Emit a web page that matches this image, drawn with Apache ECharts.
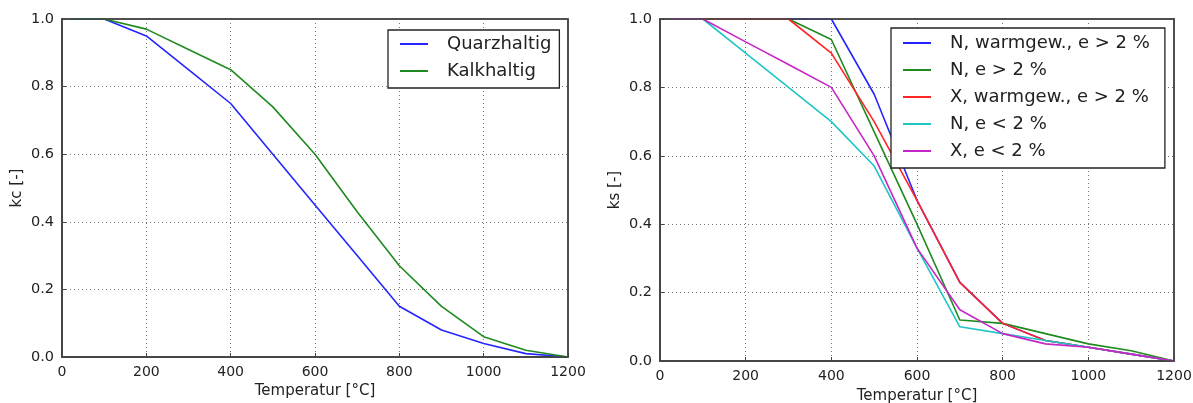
<!DOCTYPE html>
<html>
<head>
<meta charset="utf-8">
<script src="https://cdn.jsdelivr.net/npm/echarts@6/dist/echarts.min.js"></script>
<style>html,body{margin:0;padding:0;background:#fff}#c{width:1193px;height:403px}</style>
</head>
<body>
<div id="c"></div>
<script>
// Left chart: concrete strength reduction kc
const tempLeft = [20, 100, 200, 300, 400, 500, 600, 700, 800, 900, 1000, 1100, 1200];
const quarzhaltig = [1.00, 1.00, 0.95, 0.85, 0.75, 0.60, 0.45, 0.30, 0.15, 0.08, 0.04, 0.01, 0.00];
const kalkhaltig  = [1.00, 1.00, 0.97, 0.91, 0.85, 0.74, 0.60, 0.43, 0.27, 0.15, 0.06, 0.02, 0.00];

// Right chart: steel strength reduction ks
const tempRight = [20, 100, 200, 300, 400, 500, 600, 700, 800, 900, 1000, 1100, 1200];
const nWarmGt2 = [1.00, 1.00, 1.00, 1.00, 1.00, 0.78, 0.47, 0.23, 0.11, 0.06, 0.04, 0.02, 0.00];
const nGt2     = [1.00, 1.00, 1.00, 1.00, 0.94, 0.67, 0.40, 0.12, 0.11, 0.08, 0.05, 0.03, 0.00];
const xWarmGt2 = [1.00, 1.00, 1.00, 1.00, 0.90, 0.70, 0.47, 0.23, 0.11, 0.06, 0.04, 0.02, 0.00];
const nLt2     = [1.00, 1.00, 0.90, 0.80, 0.70, 0.57, 0.33, 0.10, 0.08, 0.06, 0.04, 0.02, 0.00];
const xLt2     = [1.00, 1.00, 0.933, 0.867, 0.80, 0.60, 0.33, 0.15, 0.08, 0.05, 0.04, 0.02, 0.00];

const xTicks = [0, 200, 400, 600, 800, 1000, 1200];
const yTicks = [0.0, 0.2, 0.4, 0.6, 0.8, 1.0];

const namesLeft = ['Quarzhaltig', 'Kalkhaltig'];
const namesRight = ['N, warmgew., e > 2 %', 'N, e > 2 %', 'X, warmgew., e > 2 %', 'N, e < 2 %', 'X, e < 2 %'];
const colorsLeft = ['#2525ff', '#1f8a1f'];
const colorsRight = ['#2525ff', '#1f8a1f', '#ff2525', '#1fc6c6', '#c626c6'];

const FONT = 'DejaVu Sans';
const pair = (xs, ys) => xs.map((x, i) => [x, ys[i]]);

const grids = [
  {left: 62, top: 19, width: 506, height: 338},
  {left: 660, top: 19, width: 514, height: 342}
];

function xAx(gi, gap) {
  return {
    gridIndex: gi, type: 'value', min: 0, max: 1200, interval: 200,
    name: 'Temperatur [°C]', nameLocation: 'middle', nameGap: gap,
    nameTextStyle: {fontFamily: FONT, fontSize: 15, color: '#222'},
    axisLine: {show: true, lineStyle: {color: '#444', width: 1.5}},
    axisTick: {show: true, inside: true, length: 4, lineStyle: {color: '#444'}},
    axisLabel: {fontFamily: FONT, fontSize: 14, color: '#222', margin: 8,
      formatter: v => xTicks.includes(v) ? String(v) : ''},
    splitLine: {show: true, lineStyle: {color: '#777', type: [1, 3], width: 1}}
  };
}
function yAx(gi, name) {
  return {
    gridIndex: gi, type: 'value', min: 0, max: 1, interval: 0.2,
    name: name, nameLocation: 'middle', nameGap: 37, nameRotate: 90,
    nameTextStyle: {fontFamily: FONT, fontSize: 15, color: '#222'},
    axisLine: {show: true, lineStyle: {color: '#444', width: 1.5}},
    axisTick: {show: true, inside: true, length: 4, lineStyle: {color: '#444'}},
    axisLabel: {fontFamily: FONT, fontSize: 14.5, color: '#222', margin: 8,
      formatter: v => yTicks.some(t => Math.abs(t - v) < 1e-9) ? v.toFixed(1) : ''},
    splitLine: {show: true, lineStyle: {color: '#777', type: [1, 3], width: 1}}
  };
}
function line(name, gi, xs, ys, color) {
  return {
    name: name, type: 'line', xAxisIndex: gi, yAxisIndex: gi,
    data: pair(xs, ys), showSymbol: false, symbol: 'none', z: 2,
    lineStyle: {color: color, width: 1.6}, itemStyle: {color: color},
    animation: false, silent: true
  };
}
function legend(names, left, top, padTop, padRight) {
  return {
    data: names, orient: 'vertical', left: left, top: top, z: 20,
    backgroundColor: '#fff', borderColor: '#222', borderWidth: 1.3,
    padding: [padTop, padRight, 7, 12], itemGap: 7, itemWidth: 28, itemHeight: 2,
    icon: 'rect',
    textStyle: {fontFamily: FONT, fontSize: 18, color: '#222', lineHeight: 20,
      padding: [0, 0, 0, 14]},
    selectedMode: false
  };
}

const chart = echarts.init(document.getElementById('c'), null, {renderer: 'canvas'});
chart.setOption({
  animation: false,
  backgroundColor: '#fff',
  grid: grids.map(g => Object.assign({show: true, outerBoundsMode: 'none', containLabel: false,
    borderColor: '#444', borderWidth: 1.5, backgroundColor: 'transparent'}, g)),
  xAxis: [xAx(0, 26), xAx(1, 28)],
  yAxis: [yAx(0, 'kc [-]'), yAx(1, 'ks [-]')],
  legend: [
    legend(namesLeft, 388, 30, 4, 8),
    legend(namesRight, 891, 28, 5, 15)
  ],
  graphic: grids.map(g => ({
    type: 'rect', z: 15, silent: true,
    shape: {x: g.left, y: g.top, width: g.width, height: g.height},
    style: {fill: null, stroke: '#444', lineWidth: 1.5}
  })),
  series: [
    line(namesLeft[0], 0, tempLeft, quarzhaltig, colorsLeft[0]),
    line(namesLeft[1], 0, tempLeft, kalkhaltig, colorsLeft[1]),
    line(namesRight[0], 1, tempRight, nWarmGt2, colorsRight[0]),
    line(namesRight[1], 1, tempRight, nGt2, colorsRight[1]),
    line(namesRight[2], 1, tempRight, xWarmGt2, colorsRight[2]),
    line(namesRight[3], 1, tempRight, nLt2, colorsRight[3]),
    line(namesRight[4], 1, tempRight, xLt2, colorsRight[4])
  ]
});
</script>
</body>
</html>
